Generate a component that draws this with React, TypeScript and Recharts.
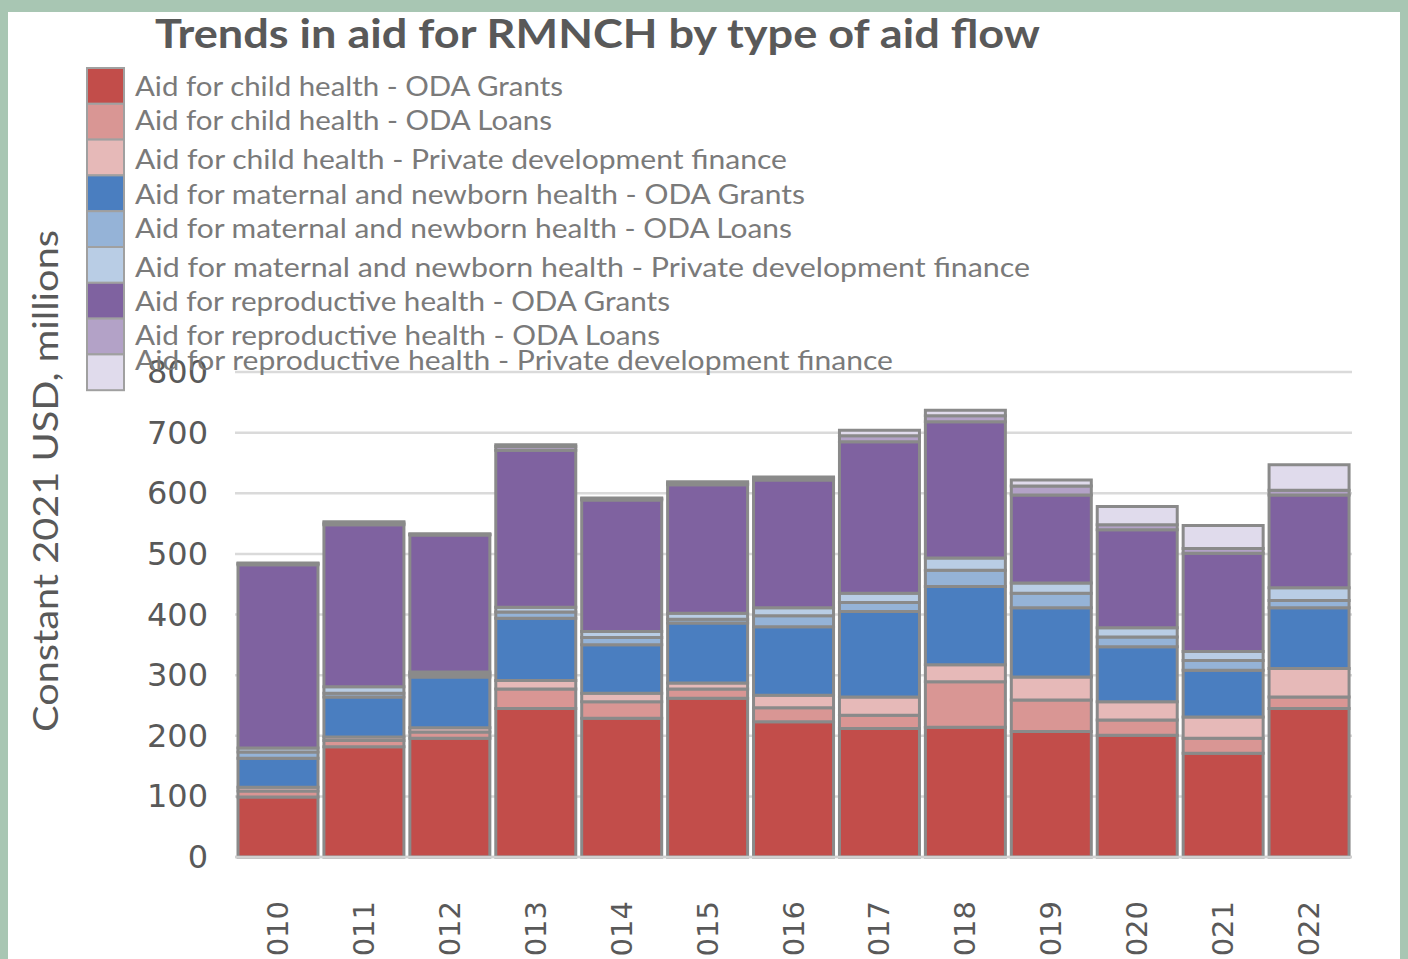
import React from 'react';
import { BarChart, Bar, XAxis, YAxis, CartesianGrid } from 'recharts';

const years = ['2010', '2011', '2012', '2013', '2014', '2015', '2016', '2017', '2018', '2019', '2020', '2021', '2022'];
const childGrants = [99, 182, 196, 245, 229, 262, 223, 212, 214, 207, 201, 171, 245];
const childLoans = [10, 10, 10, 32, 27, 15, 23, 22, 75, 52, 25, 25, 19];
const childPrivate = [6, 6, 7, 14, 14, 10, 21, 30, 28, 38, 30, 35, 47];
const mnGrants = [48, 66, 84, 103, 80, 99, 113, 141, 129, 114, 91, 77, 100];
const mnLoans = [10, 6, 5, 10, 12, 6, 18, 15, 27, 24, 16, 16, 12];
const mnPrivate = [7, 11, 3, 8, 10, 10, 13, 15, 20, 17, 15, 15, 21];
const rhGrants = [302, 267, 226, 259, 217, 212, 211, 250, 225, 145, 162, 162, 153];
const rhLoans = [2, 3, 1, 6, 2, 3, 3, 10, 10, 15, 8, 8, 8];
const rhPrivate = [1, 2, 1, 3, 1, 2, 2, 9, 9, 10, 30, 38, 42];
const yTicks = [0, 100, 200, 300, 400, 500, 600, 700, 800];

const seriesNames = [
  'Aid for child health - ODA Grants',
  'Aid for child health - ODA Loans',
  'Aid for child health - Private development finance',
  'Aid for maternal and newborn health - ODA Grants',
  'Aid for maternal and newborn health - ODA Loans',
  'Aid for maternal and newborn health - Private development finance',
  'Aid for reproductive health - ODA Grants',
  'Aid for reproductive health - ODA Loans',
  'Aid for reproductive health - Private development finance',
];
const seriesValues = [childGrants, childLoans, childPrivate, mnGrants, mnLoans, mnPrivate, rhGrants, rhLoans, rhPrivate];
const seriesColors = ['#c24d4a', '#d99694', '#e6b9b8', '#4a7ec0', '#95b3d7', '#b9cde5', '#7f62a0', '#b3a2c7', '#e0dbec'];

// layout-only constants for the legend
const legendTextWidths = [428, 417, 652, 670, 657, 895, 535, 525, 758];
const legendTextY = [87, 121, 160, 195, 229, 268, 302, 336, 361];

const keys = seriesNames.map((_, i) => 's' + i);
const data = years.map((y, j) => {
  const row: Record<string, any> = { year: y };
  seriesValues.forEach((arr, i) => { row[keys[i]] = arr[j]; });
  return row;
});

const YTick = (props: any) => {
  const { y, payload } = props;
  return (
    <text x={208} y={y} dy={11} textAnchor="end" fill="#595959" fontSize={32} fontFamily="DejaVu Sans">
      {payload.value}
    </text>
  );
};

const XTick = (props: any) => {
  const { x, y, payload } = props;
  return (
    <text
      x={x}
      y={y + 36}
      dy={10}
      textAnchor="end"
      transform={`rotate(-90, ${x}, ${y + 36})`}
      fill="#595959"
      fontSize={29}
      fontFamily="DejaVu Sans"
    >
      {payload.value}
    </text>
  );
};

export default function App() {
  return (
    <div style={{ position: 'fixed', left: 0, top: 0, width: 1408, height: 959, background: '#a8c6b3', overflow: 'hidden' }}>
      <div style={{ position: 'absolute', left: 8, top: 12, width: 1392, height: 960, background: '#ffffff' }} />
      <div style={{ position: 'absolute', left: 0, top: 0 }}>
        <BarChart
          width={1408}
          height={959}
          data={data}
          margin={{ top: 372, right: 56, bottom: 42, left: 155 }}
          barCategoryGap={3}
        >
          <CartesianGrid vertical={false} stroke="#dadada" strokeWidth={2.5} />
          <XAxis
            dataKey="year"
            height={60}
            tick={<XTick />}
            tickLine={false}
            axisLine={{ stroke: '#d0d0d0', strokeWidth: 2.5 }}
            interval={0}
          />
          <YAxis
            width={80}
            domain={[0, 800]}
            ticks={yTicks}
            tick={<YTick />}
            tickLine={false}
            axisLine={false}
            interval={0}
          />
          {keys.map((k, i) => (
            <Bar
              key={k}
              dataKey={k}
              stackId="a"
              fill={seriesColors[i]}
              stroke="#8a8a8a"
              strokeWidth={3}
              isAnimationActive={false}
            />
          ))}
        </BarChart>
      </div>
      <svg width={1408} height={959} style={{ position: 'absolute', left: 0, top: 0, pointerEvents: 'none' }}>
        <text
          x={155}
          y={48}
          fontFamily="Lato"
          fontWeight="bold"
          fontSize={41}
          fill="#595959"
          textLength={885}
          lengthAdjust="spacingAndGlyphs"
        >
          Trends in aid for RMNCH by type of aid flow
        </text>
        <text
          x={0}
          y={0}
          transform="translate(58, 732) rotate(-90)"
          fontFamily="Lato"
          fontSize={35}
          fill="#595959"
          textLength={502}
          lengthAdjust="spacingAndGlyphs"
        >
          Constant 2021 USD, millions
        </text>
        {seriesNames.map((name, i) => (
          <g key={name}>
            <rect x={87} y={68 + i * 35.8} width={37} height={35.8} fill={seriesColors[i]} stroke="#a0a0a0" strokeWidth={2} />
            <text
              x={135}
              y={legendTextY[i] + 9}
              fontFamily="Lato"
              fontSize={27}
              fill="#7a7a7a"
              textLength={legendTextWidths[i]}
              lengthAdjust="spacingAndGlyphs"
            >
              {name}
            </text>
          </g>
        ))}
      </svg>
    </div>
  );
}
